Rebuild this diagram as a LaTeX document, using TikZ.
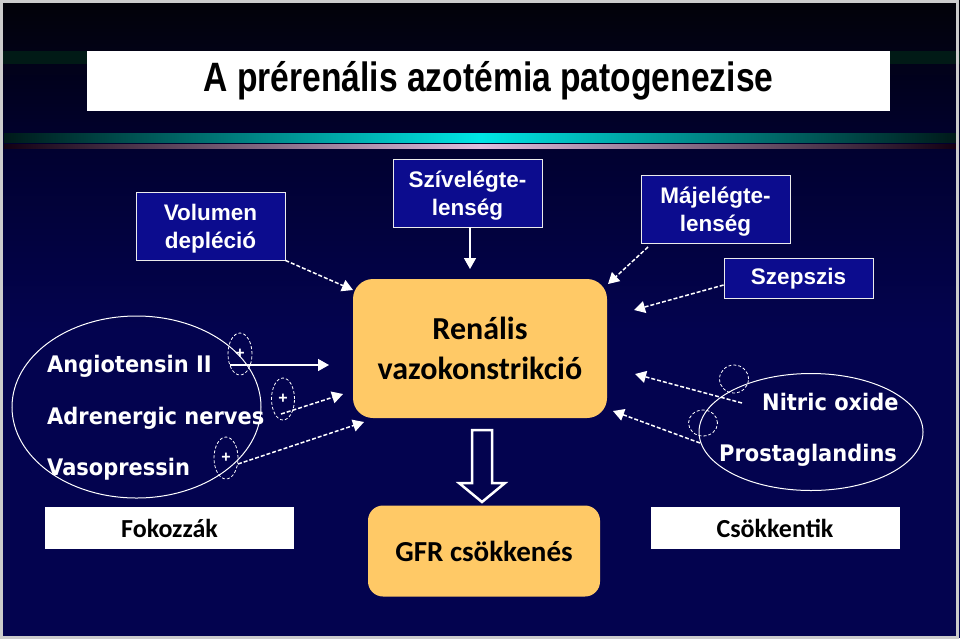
\documentclass[tikz,border=0pt]{standalone}
\usepackage{fontspec}
\setmainfont{Liberation Sans}
\newfontfamily\titlefont[FakeStretch=0.82]{Liberation Sans}
\newfontfamily\calfont{Carlito}
\newfontfamily\pixfont[FakeStretch=0.92]{DejaVu Sans}
\usetikzlibrary{arrows.meta,shapes.geometric}
\definecolor{bgnavy}{HTML}{03034F}
\definecolor{bgtop}{HTML}{020208}
\definecolor{bgmid}{HTML}{010130}
\definecolor{boxblue}{HTML}{0C0C8E}
\definecolor{gold}{HTML}{FFC966}
\definecolor{tealband}{HTML}{011A16}
\tikzset{
  bluebox/.style={draw=white!85!gray, line width=0.8pt, fill=boxblue, inner sep=0pt,
    minimum width=149pt, minimum height=68pt},
  boxtext/.style={text=white, font=\bfseries\fontsize{22.5}{28}\selectfont, align=center, inner sep=0pt},
  goldbox/.style={fill=gold, rounded corners=20pt, inner sep=0pt, align=center,
    font=\calfont\bfseries\fontsize{32}{40}\selectfont},
  whitebox/.style={fill=white, inner sep=0pt, minimum width=249pt, minimum height=42pt,
    font=\calfont\bfseries\fontsize{26}{26}\selectfont},
  pixtext/.style={text=white, font=\pixfont\bfseries\fontsize{22.8}{23}\selectfont, inner sep=0pt},
  plusell/.style={draw=white, dash pattern=on 3pt off 2pt, line width=0.8pt, ellipse, inner sep=0pt,
    text=white, font=\bfseries\fontsize{16}{16}\selectfont},
  arr/.style={draw=white, line width=1.5pt, -{Triangle[length=11pt,width=12pt]}},
  darr/.style={arr, dash pattern=on 4pt off 2pt},
}
\begin{document}
\begin{tikzpicture}[x=1pt,y=-1pt]
\useasboundingbox (0,0) rectangle (960,638);
% background
\shade[top color=bgtop, bottom color=bgmid] (0,0) rectangle (960,150);
\shade[top color=bgmid, bottom color=bgnavy] (0,150) rectangle (960,330);
\fill[bgnavy] (0,330) rectangle (960,638);
\fill[tealband] (0,51) rectangle (960,64);
\shade[left color=black!80!teal, right color=black!80!teal, middle color=cyan!80!teal] (4,133) rectangle (956,142);
\shade[left color=black!85!violet, right color=black!85!violet, middle color=violet!25!white] (4,144) rectangle (956,148);
\draw[gray!40, line width=3pt] (1.5,1) rectangle (957,637);
% title
\node[fill=white, minimum width=803pt, minimum height=60pt, inner sep=0pt,
  font=\titlefont\bfseries\fontsize{41}{41}\selectfont] (title) at (488.5,81) {A prérenális azotémia patogenezise};
% causes
\node[bluebox] (vol) at (210.5,226) {};
\node[boxtext] (volt) at ([yshift=-3pt]vol.center) {Volumen\\depléció};
\node[bluebox] (sziv) at (467.5,193) {};
\node[boxtext] (szivt) at ([yshift=-3pt]sziv.center) {Szívelégte-\\lenség};
\node[bluebox] (maj) at (715.5,209) {};
\node[boxtext] (majt) at ([yshift=-3pt]maj.center) {Májelégte-\\lenség};
\node[bluebox, minimum height=40pt] (szep) at (798.5,278) {};
\node[boxtext] (szept) at ([yshift=-1pt]szep.center) {Szepszis};
% central boxes
\node[goldbox, minimum width=254pt, minimum height=139pt] (ren) at (480,348.5) {Renális\\vazokonstrikció};
\node[goldbox, rounded corners=15pt, minimum width=232pt, minimum height=91pt,
  font=\calfont\bfseries\fontsize{29}{29}\selectfont] (gfr) at (484,551) {GFR csökkenés};
% hollow arrow
\draw[white, line width=2.5pt, fill=bgnavy, line join=miter]
  (472,430) -- (492,430) -- (492,483) -- (505,483) -- (482,502) -- (459,483) -- (472,483) -- cycle;
% bottom labels
\node[whitebox] (fok) at (169.5,528) {Fokozzák};
\node[whitebox] (csok) at (775,528) {Csökkentik};
% left group
\node[ellipse, draw=white, line width=1pt, minimum width=249pt, minimum height=182pt, inner sep=0pt] (lell) at (136.5,407) {};
\node[pixtext, anchor=base west] (ang) at (47,372) {Angiotensin II};
\node[pixtext, anchor=base west] (adr) at (47,424) {Adrenergic nerves};
\node[pixtext, anchor=base west] (vas) at (47,475) {Vasopressin};
\node[plusell, minimum width=24pt, minimum height=42pt] (p1) at (240,354) {+};
\node[plusell, minimum width=23pt, minimum height=42pt] (p2) at (283,399) {+};
\node[plusell, minimum width=24pt, minimum height=42pt] (p3) at (226,458) {+};
% right group
\node[ellipse, draw=white, line width=1pt, minimum width=224pt, minimum height=117pt, inner sep=0pt] (rell) at (811,432) {};
\node[pixtext, anchor=base west] (no) at (762,410) {Nitric oxide};
\node[pixtext, anchor=base west] (pg) at (719,461) {Prostaglandins};
\node[plusell, minimum width=29pt, minimum height=28pt] (c1) at (734,379) {};
\node[plusell, minimum width=29pt, minimum height=26pt] (c2) at (703,423) {};
% connector end points
\coordinate (a1s) at (230,365); \coordinate (a1e) at (329,365);
\coordinate (a2s) at (281,414); \coordinate (a2e) at (343,394);
\coordinate (a3s) at (238,464); \coordinate (a3e) at (364,422);
\coordinate (b1s) at (742,403); \coordinate (b1e) at (635,374);
\coordinate (b2s) at (700,443); \coordinate (b2e) at (613,411);
\coordinate (t1e) at (353,290);
\coordinate (t2e) at (470,269);
\coordinate (t3s) at (648,247); \coordinate (t3e) at (608,284);
\coordinate (t4e) at (634,310);
% connectors
\draw[darr] (vol.south east) -- (t1e);
\draw[arr] (sziv.south) ++(2.5,0) coordinate (t2s) -- (t2e);
\draw[darr] (t3s) -- (t3e);
\draw[darr] (szep.west) ++(0,7) coordinate (t4s) -- (t4e);
\draw[arr] (a1s) -- (a1e);
\draw[darr] (a2s) -- (a2e);
\draw[darr] (a3s) -- (a3e);
\draw[darr] (b1s) -- (b1e);
\draw[darr] (b2s) -- (b2e);
\end{tikzpicture}
\end{document}
